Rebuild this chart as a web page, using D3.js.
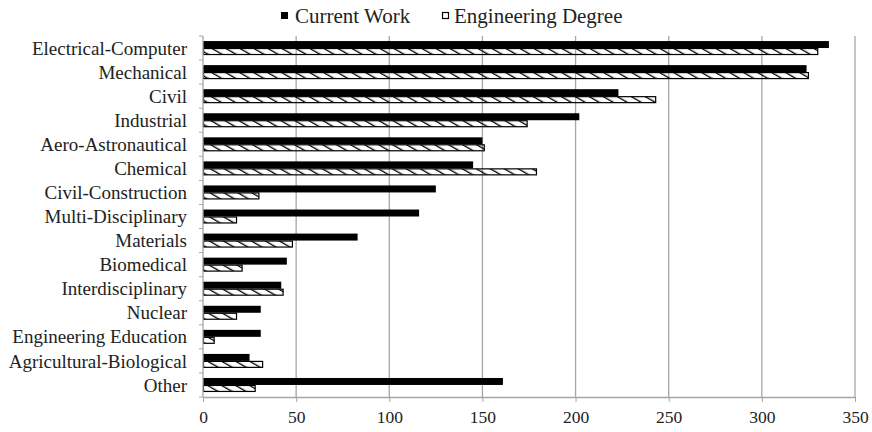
<!DOCTYPE html>
<html>
<head>
<meta charset="utf-8">
<script src="https://cdn.jsdelivr.net/npm/d3@7"></script>
<style>
  body { margin: 0; background: #fff; }
</style>
</head>
<body>
<div id="chart"></div>
<script>
// Data
const categories = [
    "Electrical-Computer", "Mechanical", "Civil", "Industrial", "Aero-Astronautical",
    "Chemical", "Civil-Construction", "Multi-Disciplinary", "Materials", "Biomedical",
    "Interdisciplinary", "Nuclear", "Engineering Education", "Agricultural-Biological", "Other"
];
const currentWork = [336, 324, 223, 202, 150, 145, 125, 116, 83, 45, 42, 31, 31, 25, 161];
const engDegree = [330, 325, 243, 174, 151, 179, 30, 18, 48, 21, 43, 18, 6, 32, 28];
const xTicks = [0, 50, 100, 150, 200, 250, 300, 350];
const seriesNames = ["Current Work", "Engineering Degree"];

// Pick a Times-like font that is actually installed
function pickFont(candidates) {
    const ctx = document.createElement("canvas").getContext("2d");
    const probe = "Electrical-Computer Wmi 0123";
    ctx.font = "40px monospace";
    const base = ctx.measureText(probe).width;
    for (const f of candidates) {
        ctx.font = `40px '${f}', monospace`;
        if (Math.abs(ctx.measureText(probe).width - base) > 0.5) return `'${f}', serif`;
    }
    return "serif";
}
const FONT = pickFont(["Liberation Serif", "Times New Roman", "Tinos", "Nimbus Roman", "Noto Serif", "DejaVu Serif", "FreeSerif"]);

// Chart sizing
const W = 872, H = 432;
const margin = { top: 36, right: 17, bottom: 35, left: 203 };
const width = W - margin.left - margin.right;
const height = H - margin.top - margin.bottom;

const svg = d3.select("#chart").append("svg")
    .attr("width", W)
    .attr("height", H)
    .style("font-family", FONT);

// Hatch pattern for the degree series
const defs = svg.append("defs");
defs.append("pattern")
    .attr("id", "hatch")
    .attr("patternUnits", "userSpaceOnUse")
    .attr("width", 7)
    .attr("height", 7)
    .attr("patternTransform", "rotate(-60)")
  .append("rect")
    .attr("x", 0).attr("y", 0)
    .attr("width", 1.3).attr("height", 7)
    .attr("fill", "#000");

const plot = svg.append("g")
    .attr("transform", `translate(${margin.left},${margin.top})`);

const x = d3.scaleLinear().domain([0, 350]).range([0, width]);
const y = d3.scaleBand().domain(categories).range([0, height]).paddingInner(0.42).paddingOuter(0.21);

// Gridlines
plot.append("g")
    .selectAll("line")
    .data(xTicks.slice(1))
    .enter()
    .append("line")
        .attr("x1", d => x(d)).attr("x2", d => x(d))
        .attr("y1", 0).attr("y2", height)
        .attr("stroke", "#a6a6a6")
        .attr("stroke-width", 1.3);

// Bars
const half = y.bandwidth() / 2;
plot.append("g")
    .selectAll("rect")
    .data(categories)
    .enter()
    .append("rect")
        .attr("x", 0)
        .attr("y", d => y(d))
        .attr("width", (d, i) => x(currentWork[i]))
        .attr("height", half)
        .attr("fill", "#000");

plot.append("g")
    .selectAll("rect")
    .data(categories)
    .enter()
    .append("rect")
        .attr("x", 0.5)
        .attr("y", d => y(d) + half + 0.5)
        .attr("width", (d, i) => x(engDegree[i]) - 0.5)
        .attr("height", half - 1)
        .attr("fill", "url(#hatch)")
        .attr("stroke", "#000")
        .attr("stroke-width", 1.2);

// Y axis: labels + boundary ticks
plot.append("line")
    .attr("x1", 0).attr("x2", 0)
    .attr("y1", 0).attr("y2", height)
    .attr("stroke", "#a6a6a6").attr("stroke-width", 1.3);

const step = height / categories.length;
plot.append("g")
    .selectAll("line")
    .data(d3.range(categories.length + 1))
    .enter()
    .append("line")
        .attr("x1", -4).attr("x2", 0)
        .attr("y1", d => d * step).attr("y2", d => d * step)
        .attr("stroke", "#a6a6a6");

plot.append("g")
    .selectAll("text")
    .data(categories)
    .enter()
    .append("text")
        .attr("x", -16)
        .attr("y", d => y(d) + y.bandwidth() / 2)
        .attr("dy", "0.35em")
        .attr("text-anchor", "end")
        .attr("font-family", FONT)
        .attr("font-size", 19)
        .attr("fill", "#222")
        .text(d => d);

// X axis
const xAxis = plot.append("g")
    .attr("transform", `translate(0,${height})`)
    .call(d3.axisBottom(x).tickValues(xTicks).tickSize(5).tickSizeOuter(0));
xAxis.attr("font-family", FONT).attr("font-size", 17.5);
xAxis.select(".domain").attr("stroke", "#a6a6a6").attr("stroke-width", 1.3);
xAxis.selectAll(".tick line").attr("stroke", "#a6a6a6");
xAxis.selectAll(".tick text")
    .attr("fill", "#222")
    .attr("y", 14);

// Legend
const legend = svg.append("g").attr("transform", "translate(281,0)");
legend.append("rect")
    .attr("x", 0).attr("y", 12).attr("width", 7).attr("height", 7)
    .attr("fill", "#000");
legend.append("text")
    .attr("x", 14).attr("y", 16).attr("dy", "0.35em")
    .attr("font-family", FONT)
    .attr("font-size", 21)
    .attr("fill", "#222")
    .text(seriesNames[0]);
legend.append("rect")
    .attr("x", 161.5).attr("y", 12.5).attr("width", 6).attr("height", 6)
    .attr("fill", "#fff").attr("stroke", "#000").attr("stroke-width", 1.2);
legend.append("text")
    .attr("x", 173).attr("y", 16).attr("dy", "0.35em")
    .attr("font-family", FONT)
    .attr("font-size", 21)
    .attr("fill", "#222")
    .text(seriesNames[1]);
</script>
</body>
</html>
